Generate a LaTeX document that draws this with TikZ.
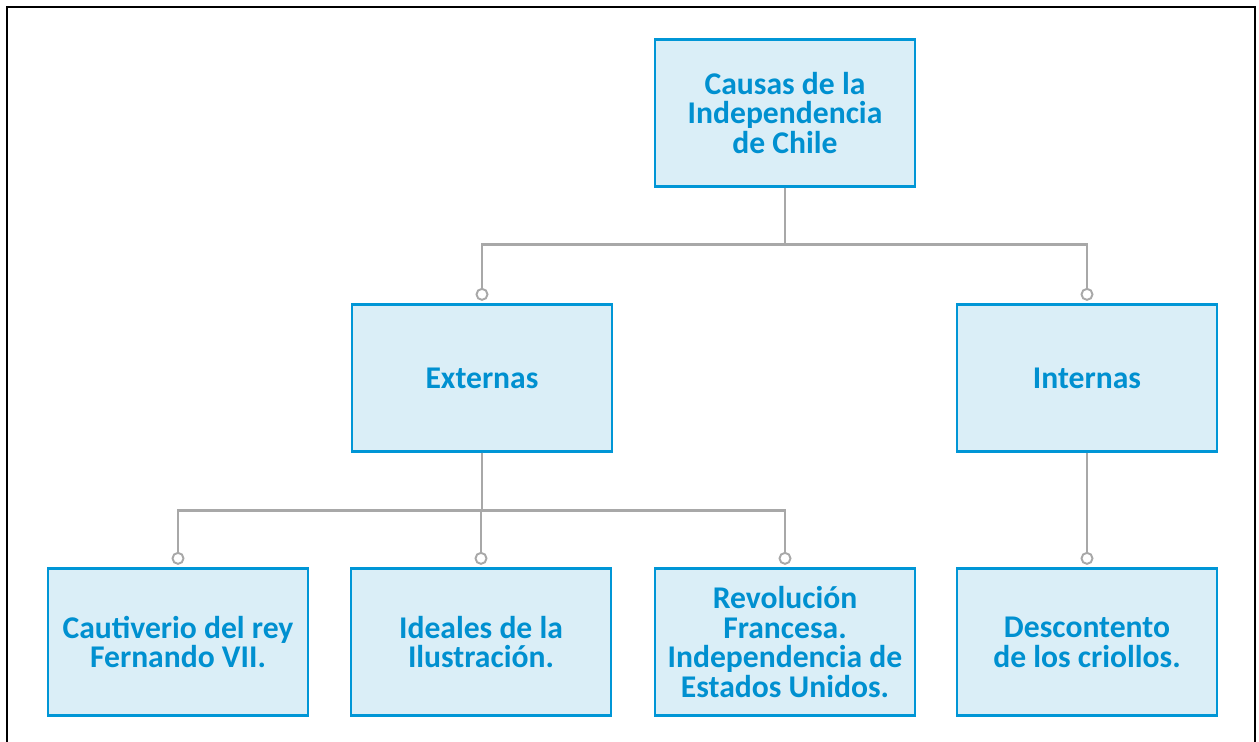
\documentclass[tikz,border=0pt]{standalone}
\usepackage{fontspec}
\setmainfont{Carlito}
\usetikzlibrary{calc}

\definecolor{boxblue}{RGB}{0,150,214}
\definecolor{boxfill}{RGB}{218,238,247}
\definecolor{textblue}{RGB}{0,144,208}
\definecolor{linegray}{RGB}{168,168,168}

\begin{document}
\begin{tikzpicture}[x=0.02cm, y=-0.02cm,
	causa/.style={draw=boxblue, fill=boxfill, line width=1.3pt,
		minimum width=5.2cm, minimum height=2.94cm, inner sep=0pt,
		align=center, text=textblue,
		font=\bfseries\fontsize{18}{17}\selectfont},
	link/.style={draw=linegray, line width=1.4pt},
	dot/.style={circle, draw=linegray, fill=white, line width=1.1pt,
		minimum size=0.22cm, inner sep=0pt}]
	% page and frame
	\useasboundingbox (0,0) rectangle (1259,742);
	\draw[line width=1.6pt] (7,742) -- (7,7) -- (1255,7) -- (1255,742);
	
	% boxes
	\node[causa] (raiz) at (785,113) {Causas de la\\Independencia\\de Chile};
	\node[causa] (ext) at (482,378) {Externas};
	\node[causa] (int) at (1087,378) {Internas};
	\node[causa] (cautiverio) at (178,642) {Cautiverio del rey\\Fernando VII.};
	\node[causa] (ideales) at (481,642) {Ideales de la\\Ilustración.};
	\node[causa] (revolucion) at (785,642) {Revolución\\Francesa.\\Independencia de\\Estados Unidos.};
	\node[causa] (descontento) at (1087,642) {Descontento\\de los criollos.};
	
	% little circles above boxes
	\foreach \n in {ext, int, cautiverio, ideales, revolucion, descontento}
		\node[dot] (d\n) at ($(\n.north)+(0,-9)$) {};
	
	% connectors
	\draw[link] (raiz.south) -- ++(0,57) -| (dext.north);
	\draw[link] (raiz.south) -- ++(0,57) -| (dint.north);
	\foreach \n in {cautiverio, ideales, revolucion}
		\draw[link] (ext.south) -- ++(0,58) -| (d\n.north);
	\draw[link] (int.south) -- (ddescontento.north);
\end{tikzpicture}
\end{document}
